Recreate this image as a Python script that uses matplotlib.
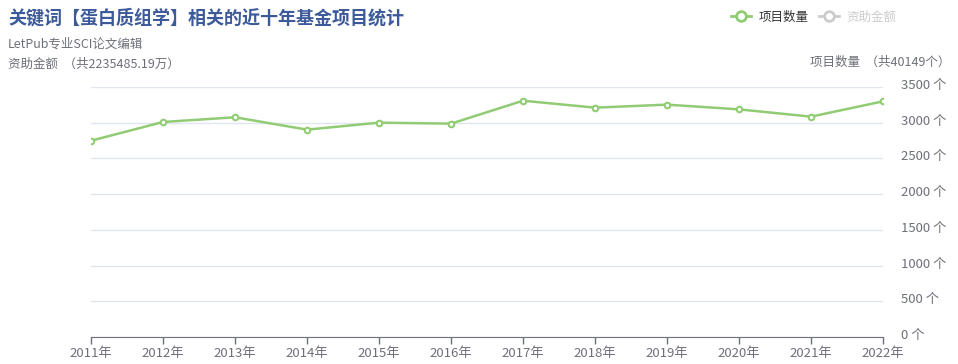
import matplotlib
matplotlib.use('Agg')
import matplotlib.pyplot as plt
from matplotlib.lines import Line2D
from matplotlib.transforms import ScaledTranslation

plt.rcParams['font.family'] = ['Noto Sans CJK SC', 'DejaVu Sans']

# data
years = ['2011年', '2012年', '2013年', '2014年', '2015年', '2016年',
         '2017年', '2018年', '2019年', '2020年', '2021年', '2022年']
project_counts = [2748, 3010, 3076, 2903, 3001, 2987, 3308, 3211, 3253, 3187, 3085, 3299]
y_ticks = [0, 500, 1000, 1500, 2000, 2500, 3000, 3500]

green = '#91cc75'
grey = '#6e7079'

fig = plt.figure(figsize=(9.58, 3.64), dpi=100)
ax = fig.add_axes([91 / 958, 1 - 337 / 364, (883 - 91) / 958, (337 - 87) / 364])

x = list(range(len(years)))
ax.plot(x, project_counts, color=green, lw=1.8, marker='o', ms=4,
        mfc='white', mec=green, mew=1.5, zorder=3)

ax.set_xlim(0, len(years) - 1)
ax.set_ylim(0, 3500)
ax.set_xticks(x)
ax.set_xticklabels(years)
ax.set_yticks(y_ticks)
ax.set_yticklabels([f'{v} 个' for v in y_ticks])
ax.yaxis.tick_right()
ax.grid(axis='y', color='#e0e6f1', lw=1)
ax.set_axisbelow(True)
for s in ['top', 'left', 'right']:
    ax.spines[s].set_visible(False)
ax.spines['bottom'].set_color(grey)
ax.tick_params(axis='x', colors=grey, length=5, width=1, labelsize=9.5, pad=2, labelcolor=grey)
ax.tick_params(axis='y', length=0, labelsize=9.5, pad=13, labelcolor=grey)
for lbl in ax.get_yticklabels():
    lbl.set_transform(lbl.get_transform() + ScaledTranslation(0, 3 / 100, fig.dpi_scale_trans))

# titles
fig.text(8 / 958, 1 - 18 / 364, '关键词【蛋白质组学】相关的近十年基金项目统计',
         fontsize=13, fontweight='bold', color='#3c5a99', va='center', ha='left')
fig.text(8 / 958, 1 - 44 / 364, 'LetPub专业SCI论文编辑', fontsize=9, color=grey,
         va='center', ha='left')
fig.text(8 / 958, 1 - 64 / 364, '资助金额  （共2235485.19万）', fontsize=9, color=grey,
         va='center', ha='left')
fig.text(950 / 958, 1 - 62 / 364, '项目数量  （共40149个）', fontsize=9, color=grey,
         va='center', ha='right')

# legend
handles = [
    Line2D([], [], color=green, lw=2, marker='o', ms=7, mfc='white', mec=green, mew=2),
    Line2D([], [], color='#cccccc', lw=2, marker='o', ms=7, mfc='white', mec='#cccccc', mew=2),
]
leg = fig.legend(handles, ['项目数量', '资助金额'], loc='center right',
                 bbox_to_anchor=(896 / 958, 1 - 17 / 364), ncol=2, frameon=False,
                 fontsize=9, handlelength=1.6, handletextpad=0.6, columnspacing=0.8,
                 borderaxespad=0, borderpad=0)
leg.get_texts()[0].set_color('#333333')
leg.get_texts()[1].set_color('#cccccc')

fig.savefig('out.png', dpi=100)
